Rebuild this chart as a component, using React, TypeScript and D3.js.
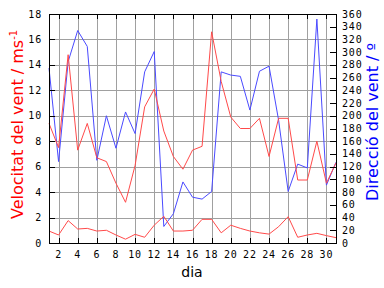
import React from "react";
import * as d3 from "d3";

const days = d3.range(1, 32);
const gust = [9.4, 7.5, 14.8, 7.3, 9.4, 6.7, 6.4, 4.7, 3.2, 6.1, 10.7, 12.1, 8.8, 6.8, 5.8, 7.3, 7.6, 16.6, 12.7, 9.9, 9.0, 9.0, 9.8, 6.8, 9.8, 9.8, 4.95, 4.95, 8.0, 4.7, 6.3];
const mean = [0.94, 0.63, 1.76, 1.1, 1.15, 0.94, 1.0, 0.63, 0.3, 0.68, 0.45, 1.4, 2.1, 0.94, 0.94, 1.0, 1.86, 1.86, 0.8, 1.4, 1.15, 0.94, 0.8, 0.7, 1.28, 2.07, 0.45, 0.63, 0.76, 0.58, 0.42];
const direction = [275, 128, 285, 334, 309, 130, 200, 149, 206, 172, 269, 301, 26, 46, 96, 72, 69, 81, 269, 264, 262, 209, 270, 278, 193, 81, 124, 118, 352, 91, 127];
const xTicks = [2, 4, 6, 8, 10, 12, 14, 16, 18, 20, 22, 24, 26, 28, 30];
const leftTicks = [0, 2, 4, 6, 8, 10, 12, 14, 16, 18];
const rightTicks = d3.range(0, 361, 20);

const W = 384, H = 288;
const L = 49, R = 336, T = 14, B = 243;

export default function App() {
  const x = d3.scaleLinear().domain([1, 31]).range([L, R]);
  const yl = d3.scaleLinear().domain([0, 18]).range([B, T]);
  const yr = d3.scaleLinear().domain([0, 360]).range([B, T]);
  const lineL = (vals: number[]) =>
    d3.line<number>().x((_, i) => x(days[i])).y((v) => yl(v))(vals) || "";
  const lineR = d3.line<number>().x((_, i) => x(days[i])).y((v) => yr(v))(direction) || "";
  const tickFont: React.CSSProperties = {
    fontFamily: "DejaVu Sans Mono",
    fontSize: 10,
    letterSpacing: 0.8,
  };
  return (
    <svg width={W} height={H} style={{ position: "absolute", left: 0, top: 0, background: "#fff" }}>
      <rect x={0} y={0} width={W} height={H} fill="#fff" />
      {/* grid */}
      {leftTicks.map((t) => (
        <line key={"hg" + t} x1={L} x2={R} y1={Math.round(yl(t)) + 0.5} y2={Math.round(yl(t)) + 0.5} stroke="#a0a0a0" />
      ))}
      {xTicks.map((t) => (
        <line key={"vg" + t} x1={Math.round(x(t)) + 0.5} x2={Math.round(x(t)) + 0.5} y1={T} y2={B} stroke="#a0a0a0" />
      ))}
      {/* data */}
      <path d={lineR} fill="none" stroke="#4a4aff" strokeWidth={1} />
      <path d={lineL(gust)} fill="none" stroke="#ff4a4a" strokeWidth={1} />
      <path d={lineL(mean)} fill="none" stroke="#ff4a4a" strokeWidth={1} />
      {/* frame */}
      <line x1={L} x2={R + 1} y1={T + 0.5} y2={T + 0.5} stroke="#000" />
      <line x1={L} x2={R + 1} y1={B + 0.5} y2={B + 0.5} stroke="#000" />
      <line x1={L + 0.5} x2={L + 0.5} y1={T} y2={B + 1} stroke="#000" />
      <line x1={R + 0.5} x2={R + 0.5} y1={T} y2={B + 1} stroke="#000" />
      {/* ticks */}
      {xTicks.map((t) => (
        <g key={"xt" + t}>
          <line x1={Math.round(x(t)) + 0.5} x2={Math.round(x(t)) + 0.5} y1={T} y2={T + 5} stroke="#000" />
          <line x1={Math.round(x(t)) + 0.5} x2={Math.round(x(t)) + 0.5} y1={B - 5} y2={B} stroke="#000" />
          <text x={x(t)} y={258} textAnchor="middle" style={tickFont}>{t}</text>
        </g>
      ))}
      {leftTicks.map((t) => (
        <g key={"lt" + t}>
          <line x1={L} x2={L + 6} y1={Math.round(yl(t)) + 0.5} y2={Math.round(yl(t)) + 0.5} stroke="#000" />
          <text x={42} y={yl(t) + 3.5} textAnchor="end" style={tickFont}>{t}</text>
        </g>
      ))}
      {rightTicks.map((t) => (
        <g key={"rt" + t}>
          <line x1={R - 6} x2={R} y1={Math.round(yr(t)) + 0.5} y2={Math.round(yr(t)) + 0.5} stroke="#000" />
          <text x={342} y={yr(t) + 3.5} textAnchor="start" style={tickFont}>{t}</text>
        </g>
      ))}
      {/* titles */}
      <text x={192} y={277} textAnchor="middle" style={{ fontFamily: "DejaVu Sans", fontSize: 14 }} fill="#000">dia</text>
      <text transform="translate(23,219) rotate(-90)" style={{ fontFamily: "DejaVu Sans", fontSize: 16 }} fill="#ff0000">
        Velocitat del vent / ms
        <tspan dy={-6} style={{ fontSize: 10 }}>-1</tspan>
      </text>
      <text transform="translate(378,201) rotate(-90)" style={{ fontFamily: "DejaVu Sans", fontSize: 16 }} fill="#0000ff">
        Direcció del vent / º
      </text>
    </svg>
  );
}
